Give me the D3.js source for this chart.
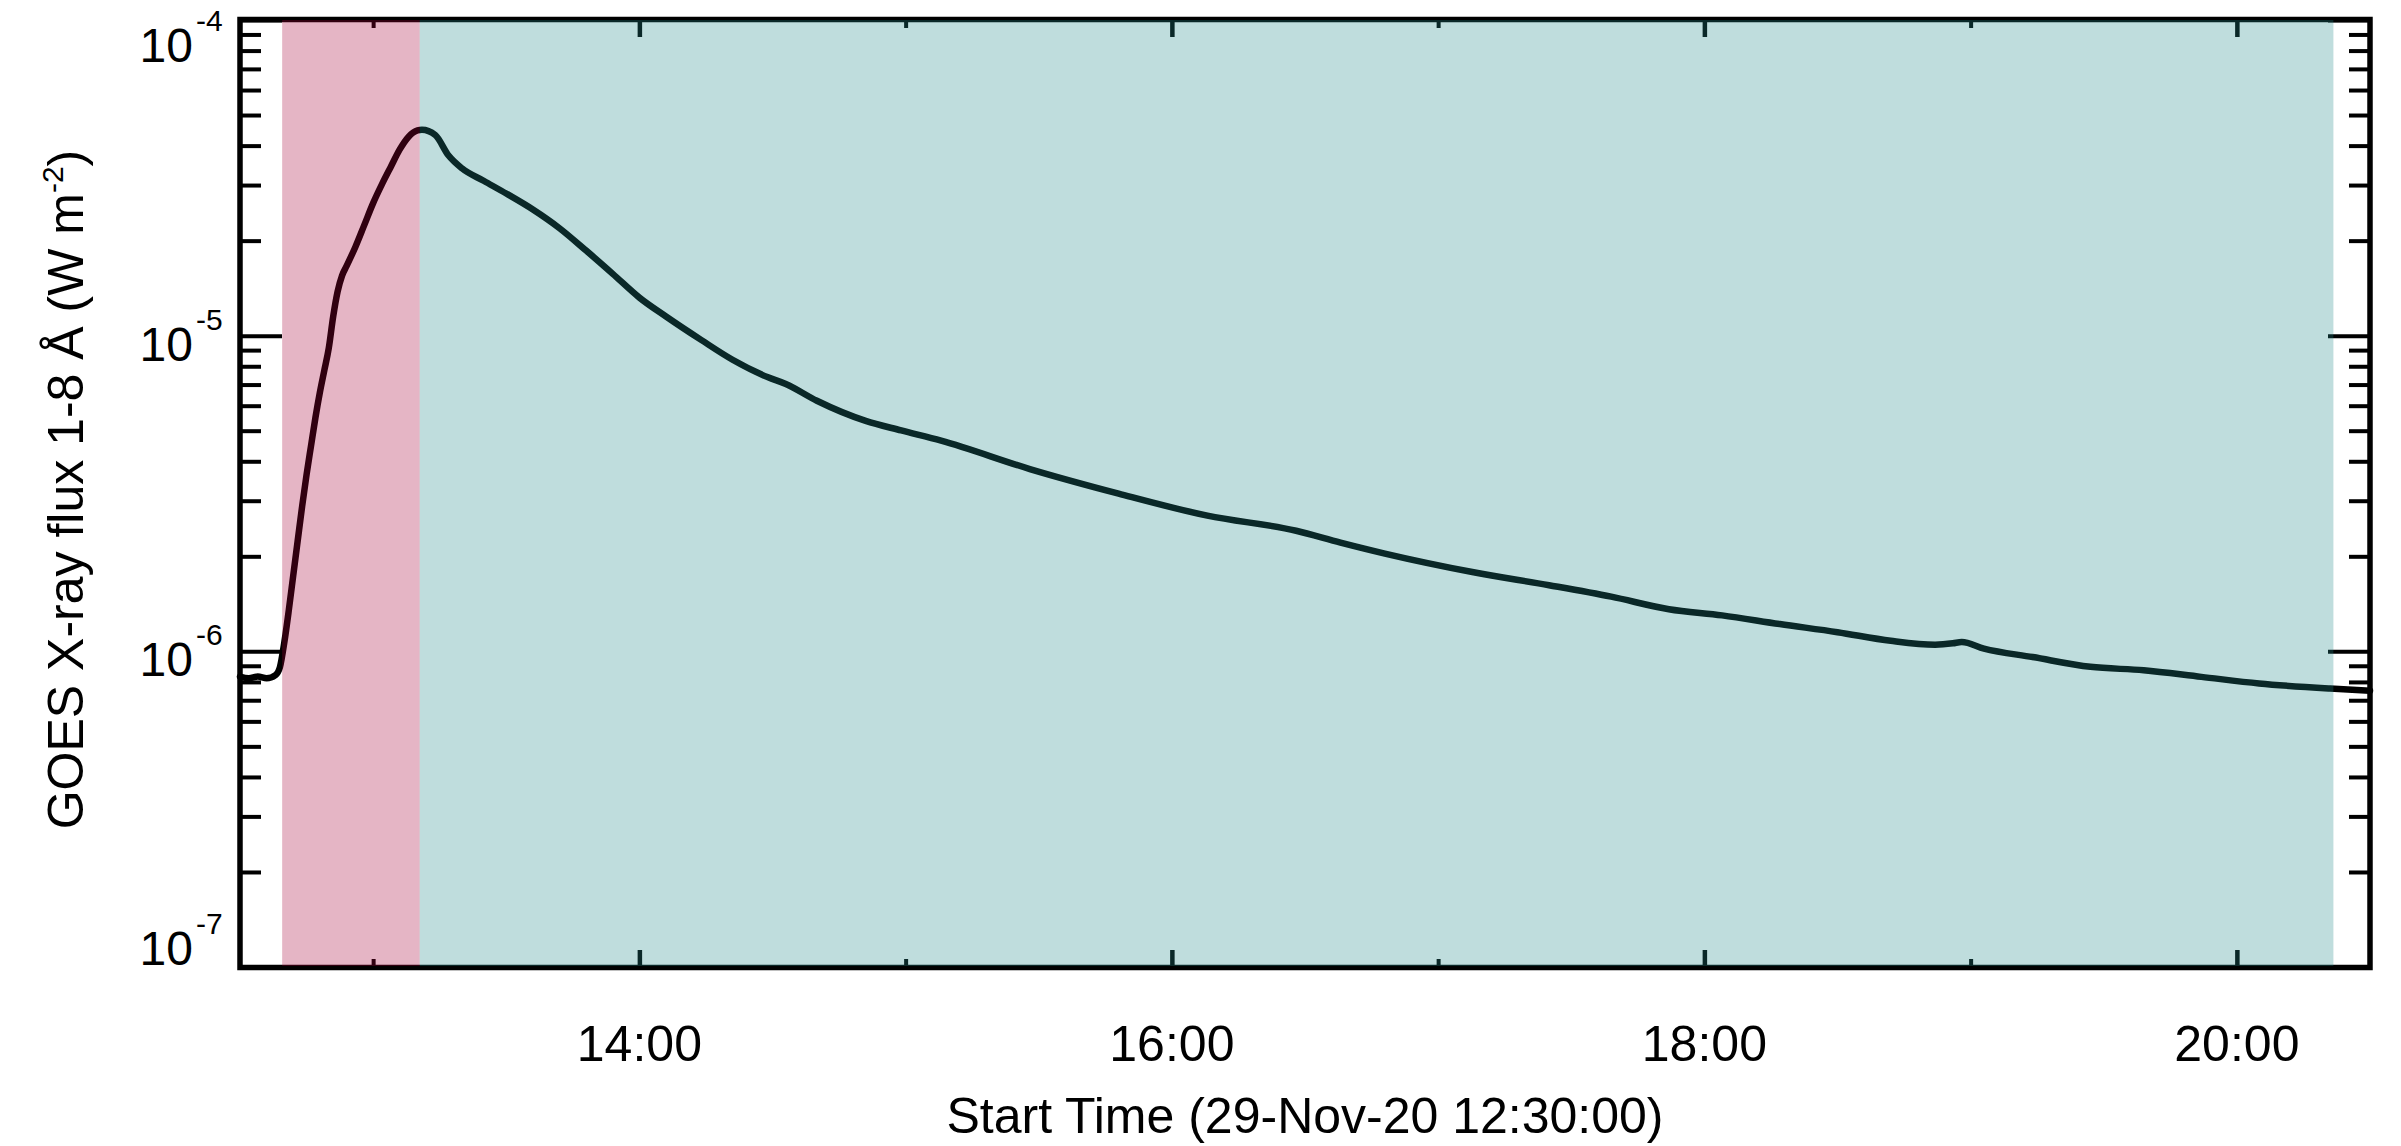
<!DOCTYPE html>
<html>
<head>
<meta charset="utf-8">
<script src="https://cdn.jsdelivr.net/npm/d3@7"></script>
<style>
  html, body { margin: 0; padding: 0; background: #fff; }
  svg text { font-family: "Liberation Sans", Arial, Helvetica, sans-serif; fill: #000; }
</style>
</head>
<body>
<svg id="chart"></svg>
<script>
// GOES 1-8 A flux, 29-Nov-2020
const DAY = "2020-11-29";
const timeRange = ["12:30:00", "20:30:00"];

const times = [
  "12:30", "12:32", "12:34", "12:36", "12:38", "12:39", "12:40", "12:41", "12:42", "12:43",
  "12:44", "12:45", "12:46", "12:47", "12:48", "12:49", "12:50", "12:51", "12:52", "12:53",
  "12:54", "12:56", "12:58", "13:00", "13:02", "13:04", "13:06", "13:08", "13:10", "13:11",
  "13:14", "13:17", "13:20", "13:25", "13:30", "13:36", "13:42", "13:48", "13:54", "14:00",
  "14:06", "14:14", "14:21", "14:29", "14:33", "14:40", "14:51", "14:59", "15:08", "15:28",
  "15:48", "16:08", "16:28", "16:38", "16:48", "17:08", "17:25", "17:39", "17:52", "18:04",
  "18:17", "18:30", "18:42", "18:52", "18:56", "18:58", "19:03", "19:14", "19:27", "19:39",
  "19:52", "20:05", "20:21", "20:30"
];

const flux = [
  8.32e-7, 8.22e-7, 8.32e-7, 8.22e-7, 8.41e-7, 8.91e-7, 1.07e-6, 1.35e-6, 1.74e-6, 2.24e-6,
  2.88e-6, 3.63e-6, 4.47e-6, 5.50e-6, 6.61e-6, 7.76e-6, 9.12e-6, 1.15e-5, 1.38e-5, 1.55e-5,
  1.66e-5, 1.91e-5, 2.24e-5, 2.63e-5, 3.02e-5, 3.43e-5, 3.89e-5, 4.27e-5, 4.47e-5, 4.49e-5,
  4.32e-5, 3.72e-5, 3.39e-5, 3.09e-5, 2.82e-5, 2.51e-5, 2.19e-5, 1.86e-5, 1.57e-5, 1.32e-5,
  1.15e-5, 9.68e-6, 8.39e-6, 7.38e-6, 7.03e-6, 6.22e-6, 5.37e-6, 5.01e-6, 4.65e-6, 3.78e-6,
  3.16e-6, 2.69e-6, 2.41e-6, 2.21e-6, 2.04e-6, 1.78e-6, 1.62e-6, 1.49e-6, 1.36e-6, 1.30e-6,
  1.22e-6, 1.15e-6, 1.08e-6, 1.05e-6, 1.06e-6, 1.07e-6, 1.02e-6, 9.59e-7, 8.93e-7, 8.71e-7,
  8.30e-7, 7.91e-7, 7.62e-7, 7.50e-7
];

// shaded intervals: rise phase then decay phase
const phaseStart = ["12:39:30", "13:10:30"];
const phaseEnd = ["13:10:30", "20:21:45"];
const phaseColor = ["rgb(166,0,55)", "rgb(34,138,138)"];

const yDomain = [1e-7, 1e-4];
const yMajor = [1e-7, 1e-6, 1e-5, 1e-4];
const xTitle = "Start Time (29-Nov-20 12:30:00)";

const W = 2401, H = 1146;
const plot = { left: 240, right: 2370, top: 20, bottom: 967 };

const parseHMS = d3.utcParse("%Y-%m-%d %H:%M:%S");
const toDate = s => parseHMS(`${DAY} ${s.length === 5 ? s + ":00" : s}`);

const data = times.map((t, i) => ({ t: toDate(t), v: flux[i] }));

const svg = d3.select("#chart").attr("width", W).attr("height", H);

const x = d3.scaleUtc()
  .domain(timeRange.map(toDate))
  .range([plot.left, plot.right]);

const y = d3.scaleLog()
  .domain(yDomain)
  .range([plot.bottom, plot.top]);

// minor log ticks 2..9 per decade
const yMinor = [];
for (let e = -7; e < -4; e++) {
  for (let m = 2; m <= 9; m++) yMinor.push(m * Math.pow(10, e));
}

const xMajor = d3.utcHour.every(2).range(x.domain()[0], x.domain()[1]).filter(d => d > x.domain()[0]);
const xMinor = d3.utcHour.every(1).range(x.domain()[0], x.domain()[1])
  .filter(d => d > x.domain()[0] && d.getUTCHours() % 2 === 1);

function styleTicks(g, width) {
  g.select(".domain").remove();
  g.selectAll(".tick line").attr("stroke", "#000").attr("stroke-width", width);
  g.selectAll(".tick text").remove();
}

// y ticks, left and right, pointing inward
const yAxes = [
  { gen: d3.axisRight, pos: plot.left },
  { gen: d3.axisLeft, pos: plot.right }
];
yAxes.forEach(a => {
  svg.append("g").attr("transform", `translate(${a.pos},0)`)
    .call(a.gen(y).tickValues(yMinor).tickSize(21).tickFormat(""))
    .call(g => styleTicks(g, 4));
  svg.append("g").attr("transform", `translate(${a.pos},0)`)
    .call(a.gen(y).tickValues(yMajor).tickSize(42).tickFormat(""))
    .call(g => styleTicks(g, 4));
});

// x ticks, top and bottom, pointing inward
const xAxes = [
  { gen: d3.axisTop, pos: plot.bottom },
  { gen: d3.axisBottom, pos: plot.top }
];
xAxes.forEach(a => {
  svg.append("g").attr("transform", `translate(0,${a.pos})`)
    .call(a.gen(x).tickValues(xMinor).tickSize(8).tickFormat(""))
    .call(g => styleTicks(g, 4));
  svg.append("g").attr("transform", `translate(0,${a.pos})`)
    .call(a.gen(x).tickValues(xMajor).tickSize(17).tickFormat(""))
    .call(g => styleTicks(g, 4.5));
});

// flux curve
const line = d3.line()
  .x(d => x(d.t))
  .y(d => y(d.v))
  .curve(d3.curveMonotoneX);

svg.append("path")
  .datum(data)
  .attr("d", line)
  .attr("fill", "none")
  .attr("stroke", "#000")
  .attr("stroke-width", 6.5)
  .attr("stroke-linejoin", "round")
  .attr("stroke-linecap", "round");

// frame
svg.append("rect")
  .attr("x", plot.left).attr("y", plot.top - 0.5)
  .attr("width", plot.right - plot.left).attr("height", plot.bottom - plot.top + 1)
  .attr("fill", "none").attr("stroke", "#000").attr("stroke-width", 5.5);

// translucent phase shading drawn over everything in the plot box
svg.append("g").selectAll("rect")
  .data(phaseStart.map((s, i) => ({ a: toDate(s), b: toDate(phaseEnd[i]), c: phaseColor[i] })))
  .join("rect")
  .attr("x", d => x(d.a))
  .attr("width", d => x(d.b) - x(d.a))
  .attr("y", plot.top)
  .attr("height", plot.bottom - plot.top - 1)
  .attr("fill", d => d.c)
  .attr("fill-opacity", 0.29);

// y tick labels 10^n
const yLab = svg.append("g");
yMajor.forEach(v => {
  const base = Math.min(Math.max(y(v) + 25, plot.top + 42), plot.bottom - 2);
  yLab.append("text")
    .attr("x", 193).attr("y", base)
    .attr("text-anchor", "end")
    .attr("font-size", 48)
    .text("10");
  yLab.append("text")
    .attr("x", 196).attr("y", base - 31)
    .attr("font-size", 30)
    .text(String(Math.round(Math.log10(v))));
});

// x tick labels
const fmt = d3.utcFormat("%H:%M");
svg.append("g").selectAll("text")
  .data(xMajor)
  .join("text")
  .attr("x", d => x(d))
  .attr("y", 1061)
  .attr("text-anchor", "middle")
  .attr("font-size", 50)
  .text(d => fmt(d));

// axis titles
svg.append("text")
  .attr("x", (plot.left + plot.right) / 2)
  .attr("y", 1133)
  .attr("text-anchor", "middle")
  .attr("font-size", 50)
  .text(xTitle);

const yt = svg.append("text")
  .attr("transform", `translate(83,${(plot.top + plot.bottom) / 2 - 4}) rotate(-90)`)
  .attr("text-anchor", "middle")
  .attr("font-size", 50);
yt.append("tspan").text("GOES X-ray flux 1-8 Å (W m");
yt.append("tspan").attr("font-size", 30).attr("dy", -20).text("-2");
yt.append("tspan").attr("dy", 20).text(")");
</script>
</body>
</html>
